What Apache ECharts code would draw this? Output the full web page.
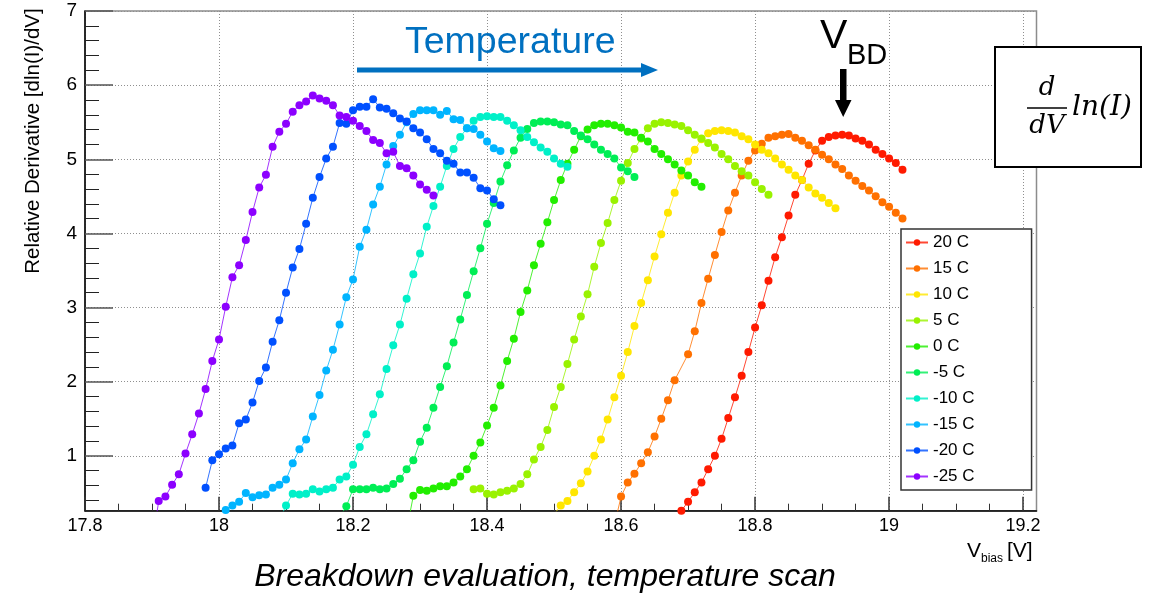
<!DOCTYPE html>
<html>
<head>
<meta charset="utf-8">
<title>Breakdown evaluation, temperature scan</title>
<script src="https://cdn.jsdelivr.net/npm/echarts@6/dist/echarts.min.js"></script>
<style>
  html, body { margin: 0; padding: 0; background: #ffffff; }
  #chart { width: 1153px; height: 598px; }
</style>
</head>
<body>
<div id="chart"></div>
<script>
// ---- data -------------------------------------------------------------
// Temperatures in legend order, with the colour of each scan
const temps  = ['20 C', '15 C', '10 C', '5 C', '0 C', '-5 C', '-10 C', '-15 C', '-20 C', '-25 C'];
const colors = ['#ff1a00', '#ff7000', '#ffe600', '#99f200', '#22ee00',
                '#00ee55', '#00f0c8', '#00b4ff', '#0050ff', '#8c00ff'];

// Bias scans: 10 mV steps; each array holds dln(I)/dV at successive bias points
const VSTEP = 0.01;

const start20 = 18.69;
const d20 = [0.26,0.38,0.51,0.64,0.82,1.00,1.23,1.51,1.79,2.08,2.40,2.73,3.03,3.36,3.68,3.95,4.24,4.52,
             4.72,4.94,5.12,5.25,5.30,5.32,5.33,5.32,5.28,5.25,5.20,5.13,5.07,5.01,4.95,4.86];

// the 15 C scan skips the 18.69 V point
const start15a = 18.59;
const d15a = [0.06,0.45,0.64,0.76,0.90,1.05,1.26,1.50,1.75,2.02];
const start15b = 18.70;
const d15b = [2.37,2.68,3.06,3.39,3.71,4.02,4.31,4.55,4.78,4.98,5.12,5.21,5.29,5.31,5.33,5.34,5.29,5.25,
              5.19,5.13,5.06,5.00,4.93,4.87,4.78,4.71,4.64,4.58,4.50,4.42,4.36,4.28,4.20];

const start10 = 18.50;
const d10 = [0.21,0.33,0.39,0.51,0.63,0.79,1.00,1.22,1.49,1.79,2.08,2.40,2.75,3.06,3.37,3.69,3.99,4.28,4.55,
             4.78,4.97,5.13,5.27,5.35,5.38,5.39,5.38,5.36,5.31,5.27,5.20,5.13,5.08,5.01,4.93,4.86,
             4.78,4.72,4.62,4.54,4.48,4.41,4.34];

const start5 = 18.38;
const d5 = [0.55,0.56,0.49,0.48,0.51,0.53,0.56,0.62,0.75,0.95,1.12,1.35,1.66,1.93,2.24,2.57,2.88,3.18,3.55,
            3.87,4.14,4.45,4.71,4.95,5.14,5.28,5.42,5.48,5.50,5.49,5.47,5.45,5.39,5.33,5.28,5.22,5.16,
            5.07,5.00,4.91,4.84,4.78,4.69,4.60,4.52];

const start0 = 18.28;
const d0 = [0.00,0.46,0.54,0.53,0.56,0.59,0.59,0.64,0.72,0.82,1.00,1.18,1.41,1.65,1.95,2.28,2.58,2.94,3.23,
            3.57,3.86,4.15,4.45,4.72,4.94,5.13,5.31,5.40,5.46,5.48,5.48,5.46,5.43,5.37,5.36,5.29,5.24,
            5.14,5.07,5.00,4.93,4.85,4.78,4.69,4.63];

const startM5 = 18.18;
const dM5 = [0.17,0.32,0.55,0.55,0.55,0.57,0.55,0.56,0.62,0.69,0.82,0.94,1.19,1.38,1.65,1.93,2.21,2.53,2.84,
             3.17,3.49,3.80,4.13,4.41,4.70,4.92,5.12,5.29,5.41,5.49,5.51,5.51,5.50,5.47,5.46,5.38,5.32,
             5.27,5.20,5.13,5.07,5.01,4.89,4.84,4.76];

const startM10 = 18.09;
const dM10 = [0.13,0.33,0.49,0.48,0.49,0.55,0.52,0.55,0.57,0.68,0.72,0.88,1.12,1.29,1.56,1.83,2.17,2.49,2.77,
              3.12,3.45,3.73,4.09,4.37,4.63,4.91,5.14,5.30,5.42,5.52,5.57,5.58,5.57,5.57,5.52,5.46,5.39,
              5.30,5.23,5.16,5.10,5.01,4.94,4.90];

const startM15 = 18.01;
const dM15 = [0.27,0.33,0.38,0.50,0.44,0.47,0.48,0.57,0.61,0.68,0.90,1.09,1.22,1.53,1.82,2.15,2.43,2.77,3.14,
              3.38,3.82,4.05,4.39,4.63,4.93,5.18,5.33,5.50,5.61,5.66,5.66,5.66,5.60,5.65,5.54,5.53,5.42,
              5.41,5.33,5.24,5.15,5.11];

const startM20 = 17.98;
const dM20 = [0.57,0.94,1.02,1.10,1.14,1.44,1.49,1.72,2.01,2.19,2.54,2.83,3.20,3.54,3.79,4.13,4.48,4.76,5.01,
              5.17,5.49,5.48,5.66,5.71,5.71,5.81,5.70,5.68,5.62,5.55,5.51,5.42,5.36,5.27,5.14,5.08,4.98,
              4.94,4.82,4.82,4.75,4.61,4.58,4.46,4.38];

const startM25 = 17.90;
const dM25 = [-0.20,0.39,0.45,0.61,0.75,1.03,1.29,1.57,1.90,2.28,2.57,3.01,3.41,3.57,3.91,4.29,4.62,4.79,5.17,
              5.37,5.48,5.64,5.73,5.78,5.86,5.82,5.79,5.73,5.59,5.57,5.52,5.45,5.38,5.26,5.22,5.08,5.10,
              4.91,4.88,4.78,4.66,4.59,4.51];

// axis ticks
const xTicks = [17.8, 18.0, 18.2, 18.4, 18.6, 18.8, 19.0, 19.2];
const xTickLabels = ['17.8', '18', '18.2', '18.4', '18.6', '18.8', '19', '19.2'];
const yTicks = [1, 2, 3, 4, 5, 6, 7];
const X_MIN = 17.8, X_MAX = 19.22, Y_MIN = 0.26, Y_MAX = 7;

// ---- helpers ------------------------------------------------------------
// pair a run of readings with its bias voltages
function scan(start, values) {
  return values.map((v, i) => [+(start + i * VSTEP).toFixed(3), v]);
}
// minor tick positions between consecutive major ticks
function subdivide(major, n, lo, hi) {
  const out = [];
  const step = (major[1] - major[0]) / n;
  for (let t = major[0] - (n - 1) * step; t < major[major.length - 1] + n * step; t += step) {
    const r = +t.toFixed(4);
    if (r > lo && r < hi && !major.some(m => Math.abs(m - r) < 1e-6)) out.push(r);
  }
  return out;
}

const scans = [
  scan(start20, d20),
  scan(start15a, d15a).concat(scan(start15b, d15b)),
  scan(start10, d10),
  scan(start5, d5),
  scan(start0, d0),
  scan(startM5, dM5),
  scan(startM10, dM10),
  scan(startM15, dM15),
  scan(startM20, dM20),
  scan(startM25, dM25)
];

const xMinor = subdivide(xTicks, 4, X_MIN, X_MAX);
const yMinor = subdivide(yTicks, 5, Y_MIN, Y_MAX);

// ---- chart -------------------------------------------------------------
const FONT = '"Liberation Sans", Arial, Helvetica, sans-serif';
const MATH = '"DejaVu Serif", "Liberation Serif", serif';
const chart = echarts.init(document.getElementById('chart'), null, { renderer: 'canvas' });

const gridLine = { show: true, lineStyle: { color: '#8f8f8f', width: 1, type: [1, 2] } };

const series = scans.map((data, i) => ({
  name: temps[i],
  type: 'line',
  data: data,
  symbol: 'circle',
  symbolSize: 8,
  showSymbol: true,
  clip: true,
  z: 3 + i,
  itemStyle: { color: colors[i] },
  lineStyle: { color: colors[i], width: 1, opacity: 0.8 },
  emphasis: { disabled: true },
  animation: false
}));

chart.setOption({
  animation: false,
  backgroundColor: '#ffffff',
  textStyle: { fontFamily: FONT },
  grid: {
    left: 85, right: 1153 - 1036.5, top: 11, bottom: 598 - 510.7,
    show: true, borderColor: '#8c8c8c', borderWidth: 1.5, backgroundColor: 'transparent',
    containLabel: false
  },
  xAxis: [
    {
      type: 'value', min: X_MIN, max: X_MAX, interval: 0.2, position: 'bottom',
      axisLine: { show: true, onZero: false, lineStyle: { color: '#000', width: 1.5 } },
      axisTick: { show: true, inside: true, length: 14, customValues: xTicks, lineStyle: { color: '#333', width: 1.5 } },
      axisLabel: {
        customValues: xTicks, margin: 6, fontSize: 18, color: '#000', fontFamily: FONT,
        formatter: v => xTickLabels[xTicks.findIndex(t => Math.abs(t - v) < 1e-6)] || ''
      },
      splitLine: gridLine
    },
    {
      type: 'value', min: X_MIN, max: X_MAX, position: 'bottom',
      axisLine: { show: false },
      axisTick: { show: true, inside: true, length: 7, customValues: xMinor, lineStyle: { color: '#333', width: 1 } },
      axisLabel: { show: false },
      splitLine: { show: false }
    }
  ],
  yAxis: [
    {
      type: 'value', min: Y_MIN, max: Y_MAX, position: 'left',
      axisLine: { show: true, onZero: false, lineStyle: { color: '#000', width: 1.5 } },
      axisTick: { show: true, inside: true, length: 28, customValues: yTicks, lineStyle: { color: '#555', width: 1.5 } },
      axisLabel: { customValues: yTicks, margin: 8, fontSize: 19, color: '#000', fontFamily: FONT },
      splitLine: gridLine
    },
    {
      type: 'value', min: Y_MIN, max: Y_MAX, position: 'left',
      axisLine: { show: false },
      axisTick: { show: true, inside: true, length: 14, customValues: yMinor, lineStyle: { color: '#222', width: 1 } },
      axisLabel: { show: false },
      splitLine: { show: false }
    }
  ],
  legend: {
    data: temps,
    orient: 'vertical',
    left: 901, top: 229,
    padding: [5, 57, 5, 4],
    itemGap: 9,
    itemWidth: 22,
    itemHeight: 8,
    backgroundColor: '#ffffff',
    borderColor: '#333333',
    borderWidth: 1.5,
    borderRadius: 0,
    selectedMode: false,
    textStyle: { fontSize: 17, color: '#000', fontFamily: FONT, padding: [0, 0, 0, 0] },
    z: 20
  },
  series: series,
  graphic: [
    // axis titles
    {
      type: 'text', x: 33, y: 141, rotation: Math.PI / 2, z: 30,
      style: { text: 'Relative Derivative [dln(I)/dV]', font: '20.5px ' + FONT, fill: '#000',
               textAlign: 'center', textVerticalAlign: 'middle' }
    },
    {
      type: 'group', x: 967, y: 562, z: 30,
      children: [
        { type: 'text', style: { x: 0, y: 0, text: 'V', font: '21px ' + FONT, fill: '#000', textVerticalAlign: 'bottom' } },
        { type: 'text', style: { x: 14, y: 3, text: 'bias', font: '12px ' + FONT, fill: '#000', textVerticalAlign: 'bottom' } },
        { type: 'text', style: { x: 40, y: 0, text: '[V]', font: '21px ' + FONT, fill: '#000', textVerticalAlign: 'bottom' } }
      ]
    },
    // caption
    {
      type: 'text', x: 545, y: 577, z: 30,
      style: { text: 'Breakdown evaluation, temperature scan', font: 'italic 32px ' + FONT, fill: '#000',
               textAlign: 'center', textVerticalAlign: 'middle' }
    },
    // temperature arrow
    {
      type: 'text', x: 405, y: 43, z: 30,
      style: { text: 'Temperature', font: '37.5px ' + FONT, fill: '#0070c0', textVerticalAlign: 'middle' }
    },
    {
      type: 'polygon', z: 30,
      shape: { points: [[357, 67.5], [641, 67.5], [641, 63], [658, 70], [641, 77], [641, 72.5], [357, 72.5]] },
      style: { fill: '#0070c0' }
    },
    // breakdown voltage marker
    {
      type: 'text', x: 820, y: 57, z: 30,
      style: { text: 'V', font: '41px ' + FONT, fill: '#000', textVerticalAlign: 'bottom' }
    },
    {
      type: 'text', x: 847, y: 70, z: 30,
      style: { text: 'BD', font: '29px ' + FONT, fill: '#000', textVerticalAlign: 'bottom' }
    },
    {
      type: 'polygon', z: 30,
      shape: { points: [[840, 69], [846.5, 69], [846.5, 100], [851.5, 100], [843.2, 117], [835, 100], [840, 100]] },
      style: { fill: '#000' }
    },
    // formula box
    {
      type: 'rect', z: 30,
      shape: { x: 995, y: 47, width: 146, height: 120 },
      style: { fill: '#ffffff', stroke: '#000', lineWidth: 2 }
    },
    {
      type: 'text', x: 1047, y: 88, z: 31,
      style: { text: 'd', font: 'italic 26px ' + MATH, fill: '#000', textAlign: 'center', textVerticalAlign: 'middle' }
    },
    {
      type: 'line', z: 31,
      shape: { x1: 1027, y1: 108, x2: 1067, y2: 108 },
      style: { stroke: '#000', lineWidth: 1.5 }
    },
    {
      type: 'text', x: 1047, y: 126, z: 31,
      style: { text: 'dV', font: 'italic 26px ' + MATH, fill: '#000', textAlign: 'center', textVerticalAlign: 'middle' }
    },
    {
      type: 'text', x: 1072, y: 108, z: 31,
      style: { text: 'ln(I)', font: 'italic 28px ' + MATH, fill: '#000', textVerticalAlign: 'middle' }
    }
  ]
});
</script>
</body>
</html>
